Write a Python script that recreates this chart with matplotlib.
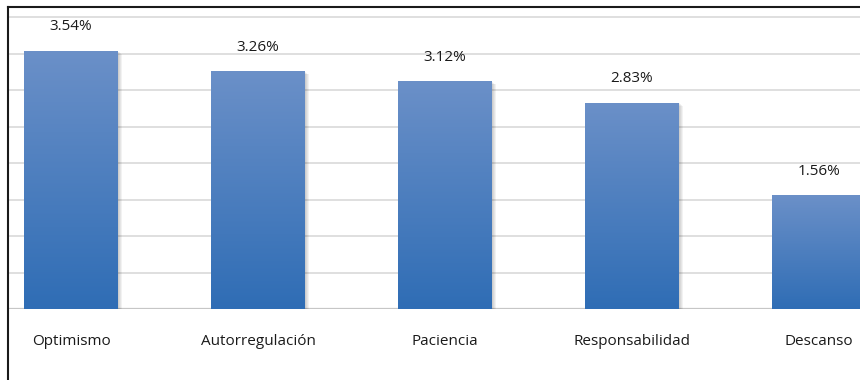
import matplotlib.pyplot as plt
import numpy as np
from matplotlib.patches import Rectangle
from matplotlib.lines import Line2D
from matplotlib.colors import LinearSegmentedColormap

categorias = ["Optimismo", "Autorregulación", "Paciencia", "Responsabilidad", "Descanso"]
valores = [3.54, 3.26, 3.12, 2.83, 1.56]
etiquetas = ["3.54%", "3.26%", "3.12%", "2.83%", "1.56%"]
ticks_y = [0, 0.5, 1.0, 1.5, 2.0, 2.5, 3.0, 3.5, 4.0]

plt.rcParams['font.family'] = ['Open Sans', 'DejaVu Sans']

W, H = 860, 380
fig = plt.figure(figsize=(W / 100, H / 100), dpi=100)
# área del gráfico en píxeles: izquierda 8, base 309, arriba 7
ax = fig.add_axes([8 / W, (H - 309) / H, (W - 8) / W, (309 - 7) / H])

x = np.arange(len(categorias))
ancho = 0.5

# líneas de cuadrícula
for t in ticks_y[1:]:
    ax.axhline(t, color="#dcdcdc", lw=1.3, zorder=0)
ax.axhline(0, color="#c6c6c6", lw=1.6, zorder=1)

# degradado de las barras
cmap = LinearSegmentedColormap.from_list("azul", ["#2f6db5", "#6b90c8"])
grad = np.linspace(0, 1, 256).reshape(-1, 1)

for xi, v in zip(x, valores):
    # sombra suave a la derecha y abajo
    for k in range(4):
        dx = 0.006 + 0.006 * k
        dy = 0.012 + 0.01 * k
        sh = Rectangle((xi - ancho / 2 + dx, -dy), ancho, v, color="black",
                       alpha=0.05, lw=0, zorder=2)
        ax.add_patch(sh)
    rect = Rectangle((xi - ancho / 2, 0), ancho, v, facecolor="none",
                     edgecolor="none", zorder=3)
    ax.add_patch(rect)
    im = ax.imshow(grad, cmap=cmap, aspect="auto", origin="lower",
                   extent=(xi - ancho / 2, xi + ancho / 2, 0, v), zorder=3)
    im.set_clip_path(rect)

for xi, v, lab in zip(x, valores, etiquetas):
    ax.annotate(lab, (xi, v), xytext=(0, 12), textcoords="offset points",
                ha="center", va="bottom", fontsize=11, color="#1a1a1a", zorder=5)

ax.set_xlim(-0.337, 4.219)
ax.set_ylim(0, 4.14)
ax.set_xticks(x)
ax.set_xticklabels(categorias, fontsize=11, color="#1a1a1a")
ax.tick_params(axis="x", length=0, pad=18)
ax.set_yticks([])
for s in ax.spines.values():
    s.set_visible(False)

# marco exterior del gráfico
fig.add_artist(Line2D([8 / W, 8 / W], [0, (H - 7) / H], color="#1a1a1a", lw=1.5,
                      transform=fig.transFigure))
fig.add_artist(Line2D([8 / W, 1], [(H - 7) / H, (H - 7) / H], color="#1a1a1a", lw=1.5,
                      transform=fig.transFigure))

fig.savefig("out.png", dpi=100)
